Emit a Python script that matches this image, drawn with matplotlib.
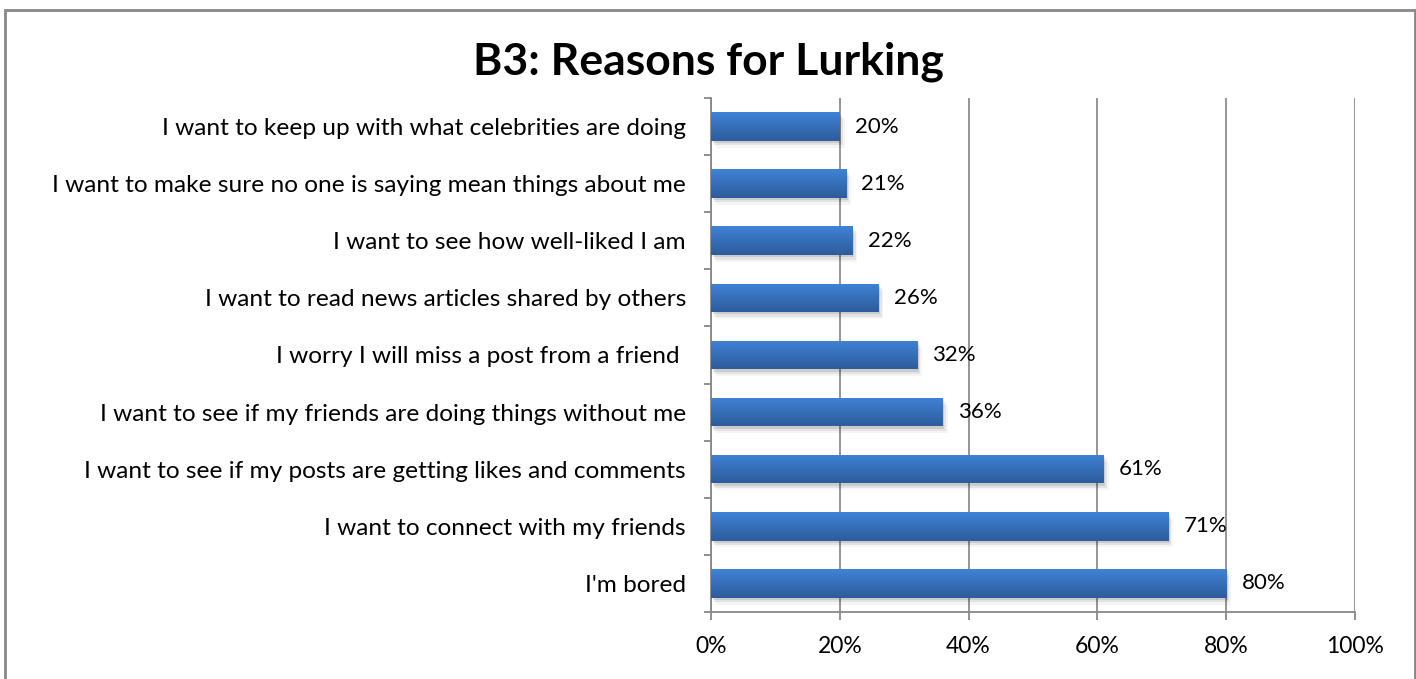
import matplotlib
matplotlib.use("Agg")
import matplotlib.pyplot as plt
import numpy as np
from matplotlib.patches import Rectangle
from matplotlib.ticker import FixedLocator, PercentFormatter
from matplotlib.colors import LinearSegmentedColormap

title = "B3: Reasons for Lurking"
categories = [
    "I'm bored",
    "I want to connect with my friends",
    "I want to see if my posts are getting likes and comments",
    "I want to see if my friends are doing things without me",
    "I worry I will miss a post from a friend ",
    "I want to read news articles shared by others",
    "I want to see how well-liked I am",
    "I want to make sure no one is saying mean things about me",
    "I want to keep up with what celebrities are doing",
]
values = [80, 71, 61, 36, 32, 26, 22, 21, 20]
xticks = [0, 20, 40, 60, 80, 100]

plt.rcParams['font.family'] = ['Lato', 'DejaVu Sans']

fig = plt.figure(figsize=(14.16, 6.79), dpi=100)
ax = fig.add_axes([0.5021, 0.0987, 0.4548, 0.757])

n = len(categories)
y = np.arange(n)
bar_h = 0.5
bars = ax.barh(y, values, height=bar_h, color='#3569b5', zorder=3)

# gradient + shadow
grad = np.linspace(0, 1, 64).reshape(-1, 1)
cmap = LinearSegmentedColormap.from_list('g', ['#3f82d6', '#2d5c9c'])
for b in bars:
    x0, y0 = b.get_x(), b.get_y()
    w, h = b.get_width(), b.get_height()
    for k, a in enumerate([0.10, 0.07, 0.04]):
        sh = Rectangle((x0 + 0.25 * (k + 1), y0 - 0.04 * (k + 1)), w, h,
                       facecolor='black', alpha=a, edgecolor='none', zorder=2)
        ax.add_patch(sh)
    im = ax.imshow(grad, cmap=cmap, aspect='auto',
                   extent=(x0, x0 + w, y0, y0 + h), origin='upper',
                   zorder=3.5, interpolation='bicubic')
    im.set_clip_path(b)

for yi, v in zip(y, values):
    ax.annotate(f"{v}%", xy=(v, yi), xytext=(11, 0), textcoords='offset points',
                va='center', ha='left', fontsize=16, color='black', zorder=5)

ax.set_xlim(0, 100)
ax.set_ylim(-0.5, n - 0.5)
ax.set_xticks(xticks)
ax.xaxis.set_major_formatter(PercentFormatter(decimals=0))
ax.set_yticks(y)
ax.set_yticklabels(categories)
ax.yaxis.set_minor_locator(FixedLocator(np.arange(-0.5, n, 1.0)))
ax.tick_params(axis='y', which='major', length=0, pad=18, labelsize=17.6)
ax.tick_params(axis='y', which='minor', length=5, width=1.3, color='#888888', direction='out')
ax.tick_params(axis='x', which='major', length=6, width=1.3, color='#888888', pad=11, labelsize=16.5)

ax.grid(axis='x', color='#8c8c8c', linewidth=1.3, zorder=1)
ax.set_axisbelow(True)
for s in ['top', 'right']:
    ax.spines[s].set_visible(False)
for s in ['left', 'bottom']:
    ax.spines[s].set_color('#888888')
    ax.spines[s].set_linewidth(1.3)

fig.text(0.5, 0.909, title, ha='center', va='center',
         fontsize=32, fontweight='bold')

border = Rectangle((5 / 1416, -0.01), 1410 / 1416, 1 - 10 / 679 + 0.01,
                   transform=fig.transFigure, fill=False, edgecolor='#888888',
                   linewidth=2, zorder=10)
fig.patches.append(border)

fig.savefig("out.png", dpi=100)
